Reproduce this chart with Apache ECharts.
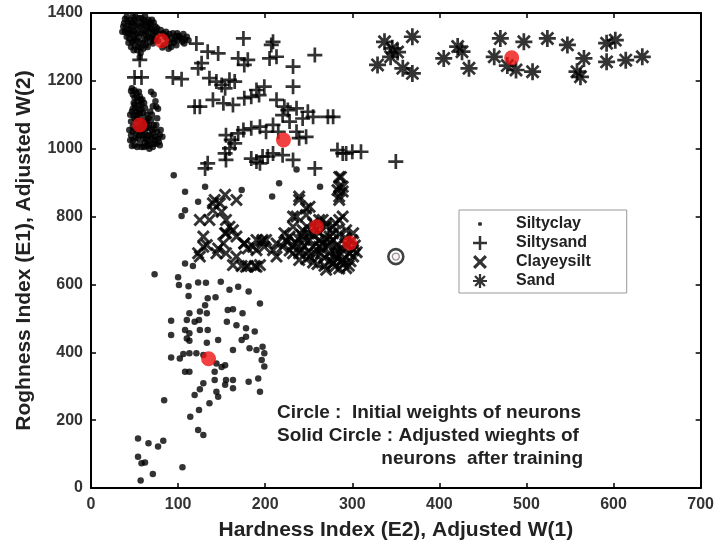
<!DOCTYPE html>
<html><head><meta charset="utf-8">
<script src="https://cdn.jsdelivr.net/npm/echarts@6/dist/echarts.min.js"></script>
<style>html,body{margin:0;padding:0;background:#fff}#c{width:717px;height:547px}</style>
</head><body><div id="c"></div>
<script>
// ---------- data ----------
const siltyclay = [
 // dense cluster top-left
 [38,1370],[40,1355],[42,1340],[44,1325],[45,1380],[46,1362],[47,1348],[48,1333],[49,1318],[50,1305],[51,1390],[52,1372],[53,1357],[54,1342],[55,1328],[56,1312],[57,1298],[58,1385],[59,1366],[60,1350],[61,1336],[62,1321],[63,1306],[64,1375],[65,1360],[66,1345],[67,1330],[68,1315],[69,1368],[70,1352],[71,1338],[72,1323],[73,1345],[75,1330],[77,1318],[79,1338],[41,1330],[43,1312],[39,1345],[46,1300],[53,1290],[57,1282],[56,1270],[55,1385],[62,1392],[48,1390],[66,1380],[74,1360],
 [37,1360],[39,1382],[42,1375],[44,1365],[43,1350],[47,1372],[50,1378],[51,1363],[49,1348],[52,1338],[50,1325],[53,1318],[47,1315],[45,1340],[58,1340],[61,1378],[63,1362],[67,1370],[70,1380],[72,1372],[74,1345],[76,1355],[71,1310],[65,1300],[60,1295],[54,1300],[49,1290],[58,1372],[63,1345],[68,1355],[57,1358],[60,1312],[64,1326],[69,1328],[73,1318],[41,1390],[36,1345],
 [85,1330],[88,1320],[90,1338],[93,1325],[95,1312],[97,1332],[100,1320],[102,1328],[105,1315],[108,1322],[110,1330],[84,1305],[91,1310],[99,1340],[86,1345],
 [80,1350],[83,1340],[87,1332],[94,1340],[96,1322],[101,1333],[104,1325],[107,1310],[92,1300],[98,1305],[89,1295],[82,1298],[106,1338],[112,1320],
 // second cluster
 [46,1170],[48,1160],[50,1150],[52,1165],[54,1140],[56,1155],[58,1130],[49,1135],[51,1120],[47,1110],[53,1100],[55,1115],[57,1095],[60,1105],[62,1120],[50,1090],[46,1080],[48,1065],[52,1075],[54,1060],[56,1050],[58,1080],[60,1065],[62,1045],[64,1075],[66,1060],[68,1040],[70,1055],[72,1070],[74,1035],[76,1050],[78,1020],[46,1040],[48,1025],[50,1010],[52,1045],[54,1030],[56,1015],[58,1005],[60,1030],[62,1018],[64,1008],[66,1025],[68,1012],[70,1030],[72,1015],[66,1090],[70,1100],[75,1124],[69,1168],[44,1055],[45,1100],[59,1145],[63,1085],[79,1040],
 [47,1178],[50,1172],[55,1168],[53,1150],[57,1145],[50,1130],[55,1128],[48,1118],[52,1108],[56,1105],[49,1098],[58,1115],[61,1135],[72,1160],[74,1140],[77,1118],[71,1125],[48,1050],[51,1058],[53,1088],[57,1068],[59,1052],[61,1078],[63,1060],[65,1040],[67,1070],[69,1085],[71,1045],[73,1058],[75,1070],[77,1030],[80,1055],[82,1035],[79,1010],[75,1015],[71,1005],[67,1000],[63,1030],[59,1040],[55,1040],[51,1030],[47,1008],[45,1025],[53,1005],[61,1005],[65,1015],[73,1025],[76,1090],[68,1110],[64,1100],
 // scattered middle
 [95,922],[108,873],[123,844],[108,819],[104,802],[131,888],[173,878],[216,898],[208,859],[236,939],[263,888],[108,662],[117,654],
 // lower cloud
 [73,630],[100,621],[101,598],[112,595],[123,606],[132,605],[149,608],[159,584],[169,593],[181,579],[194,544],[112,566],[134,559],[143,562],[131,539],[113,515],[125,520],[133,515],[157,525],[163,527],[174,515],[92,493],[110,495],[119,490],[124,495],[156,490],[167,480],[178,471],[188,461],[108,466],[113,456],[125,466],[134,466],[110,441],[92,451],[113,434],[133,428],[146,436],[163,407],[173,436],[178,446],[182,412],[190,407],[197,416],[199,397],[196,377],[199,358],[192,323],[194,284],[181,313],[163,318],[163,294],[92,385],[102,382],[106,395],[113,397],[121,397],[129,392],[108,343],[113,343],[144,367],[150,357],[154,362],[142,343],[155,318],[154,304],[129,309],[142,318],[125,291],[119,274],[144,284],[146,269],[136,250],[124,230],[114,210],[84,259],[123,171],[129,156],[54,146],[66,132],[77,122],[83,139],[54,92],[58,73],[62,75],[71,41],[57,22],[105,61]
];
const siltysand = [
 [56,1262],[50,1210],[58,1210],[94,1210],[104,1205],[121,1310],[134,1286],[123,1237],[127,1252],[146,1281],[136,1208],[144,1198],[150,1188],[159,1203],[165,1198],[154,1178],[169,1266],[175,1325],[176,1247],[180,1262],[190,1173],[193,1158],[199,1183],[209,1315],[207,1306],[205,1266],[213,1271],[232,1242],[232,1183],[257,1276],
 [119,1124],[125,1124],[140,1144],[152,1134],[163,1129],[176,1149],[184,1153],[213,1144],[222,1124],[226,1114],[220,1099],[236,1119],[249,1109],[255,1094],[272,1094],[243,1089],[228,1080],[236,1050],[239,1031],[247,1035],[278,1094],
 [155,1040],[161,1026],[165,1016],[169,1045],[175,1055],[184,1060],[194,1065],[201,1050],[209,1070],[215,1050],[159,1001],[154,986],[155,967],[134,957],[131,942],[184,971],[190,962],[194,957],[197,977],[203,977],[209,986],[220,981],[232,967],[257,942],[283,996],[289,986],[300,991],[293,986],[310,991],[350,962]
];
const clayeysilt = [
 [142,849],[148,839],[154,864],[167,849],[140,819],[150,814],[125,790],[136,790],[155,790],[159,770],[154,751],[129,741],[133,716],[123,692],[146,706],[152,721],[155,692],[167,741],[176,721],[186,711],[196,726],[199,711],[163,657],[173,654],[180,654],[188,654],[194,657],
 [140,839],[129,711],[125,682],[144,692],[155,751],[167,682],[180,706],[190,731],[201,731],[213,721],[224,731],[232,800],[239,849],[247,824],[251,731],[239,692],[262,711],[278,751],[285,917],[285,888],[285,849],[289,874],[285,790],[278,662],[289,672],[297,692],
 [239,859],[251,829],[236,800],[232,770],[243,760],[228,741],[236,721],[232,692],[239,672],[251,682],[255,711],[266,721],[274,741],[281,780],[289,800],[293,760],[301,751],[301,701],[301,682],[289,672],[278,662],[270,643],[285,647],[264,692],[274,692],[281,701],[285,859],[287,917],[289,888],[283,878],[247,805],[259,760],[262,731],[266,790],[278,731],[245,731],[241,701],[222,751],[220,711],
 [163,760],[176,721],[197,731],[209,701],[213,682],[190,701],[178,652],[190,652],[270,770],[292,720],[260,660],[296,655],
 [255,745],[262,752],[268,738],[275,725],[282,715],[288,705],[295,712],[300,730],[292,738],[285,748],[278,770],[270,780],[262,790],[255,780],[248,770],[250,750],[242,745],[238,735],[245,712],[250,698],[258,690],[268,678],[275,670],[282,680],[290,660],[298,668],[305,695],[303,715],[265,705],[272,715],[280,690],[287,690],[293,648],[280,652],[268,655],[255,665],[247,675],[232,715],[228,700],[225,725]
];
const sand = [
 [337,1315],[369,1330],[346,1296],[329,1247],[344,1271],[358,1237],[369,1222],[405,1266],[421,1301],[426,1286],[434,1237],[470,1325],[463,1271],[497,1315],[488,1232],[507,1227],[524,1325],[547,1306],[566,1266],[558,1227],[562,1212],[592,1311],[602,1320],[592,1256],[614,1261],[633,1271],[352,1285],[478,1245]
];
const adjusted = [[81,1318],[56,1070],[221,1026],[259,770],[297,722],[483,1268],[135,381]];
const initial = [[350,682]];

// ---------- symbols ----------
const plusPath = 'path://M8.2,0 L11.8,0 L11.8,8.2 L20,8.2 L20,11.8 L11.8,11.8 L11.8,20 L8.2,20 L8.2,11.8 L0,11.8 L0,8.2 L8.2,8.2 Z';
const crossPath = 'path://M0,3.2 L3.2,0 L10,6.8 L16.8,0 L20,3.2 L13.2,10 L20,16.8 L16.8,20 L10,13.2 L3.2,20 L0,16.8 L6.8,10 Z';
function starPath(){
  const R = 10, w = 1.6, r = w / Math.sin(Math.PI/8);
  const pts = [];
  for (let k = 0; k < 8; k++) {
    const t = k*Math.PI/4, c = Math.cos(t), s = Math.sin(t);
    pts.push([R*c + w*s, R*s - w*c]);
    pts.push([R*c - w*s, R*s + w*c]);
    const m = t + Math.PI/8;
    pts.push([r*Math.cos(m), r*Math.sin(m)]);
  }
  return 'path://' + pts.map((p,i)=>(i?'L':'M')+(p[0]+10).toFixed(2)+','+(p[1]+10).toFixed(2)).join(' ') + ' Z';
}
const starSym = starPath();
const dotLegend = 'path://M0,0 L0.01,0 Z M20,20 L19.99,20 Z M7,10 A3,3 0 1 1 13,10 A3,3 0 1 1 7,10 Z';

const FONT = 'Liberation Sans, Arial, sans-serif';
const chart = echarts.init(document.getElementById('c'));
const axisCommon = {
  axisLine:{show:true, onZero:false, lineStyle:{color:'#000', width:2}},
  axisTick:{show:true, inside:true, length:5, lineStyle:{color:'#000', width:1.5}},
  splitLine:{show:false}
};
const labelStyle = {fontFamily:FONT, fontWeight:'bold', fontSize:16, color:'#333', formatter:(v)=>String(v)};
chart.setOption({
  backgroundColor:'#fff',
  animation:false,
  grid:{left:91, right:15, top:13, bottom:59, containLabel:false},
  xAxis:[
    Object.assign({type:'value', min:0, max:700, interval:100, position:'bottom',
      name:'Hardness Index (E2), Adjusted W(1)', nameLocation:'middle', nameGap:32,
      nameTextStyle:{fontFamily:FONT, fontWeight:'bold', fontSize:21, color:'#222'},
      axisLabel:Object.assign({margin:9}, labelStyle)}, axisCommon),
    Object.assign({type:'value', min:0, max:700, interval:100, position:'top', axisLabel:{show:false}}, axisCommon)
  ],
  yAxis:[
    Object.assign({type:'value', min:0, max:1400, interval:200, position:'left',
      name:'Roghness Index (E1), Adjusted W(2)', nameLocation:'middle', nameGap:56,
      nameTextStyle:{fontFamily:FONT, fontWeight:'bold', fontSize:21, color:'#222'},
      axisLabel:Object.assign({margin:8}, labelStyle)}, axisCommon),
    Object.assign({type:'value', min:0, max:1400, interval:200, position:'right', axisLabel:{show:false}}, axisCommon)
  ],
  legend:{
    orient:'vertical', left:459, top:210, itemGap:3, itemWidth:20, itemHeight:14,
    padding:[6,36,4,14], borderColor:'#999', borderWidth:1, backgroundColor:'#fff',
    textStyle:{fontFamily:FONT, fontWeight:'bold', fontSize:16, color:'#222', padding:[0,0,0,21]},
    data:[
      {name:'Siltyclay', icon:dotLegend},
      {name:'Siltysand', icon:plusPath},
      {name:'Clayeysilt', icon:crossPath},
      {name:'Sand', icon:starSym}
    ]
  },
  graphic:[
    {type:'text', left:277, top:403, style:{text:'Circle :  Initial weights of neurons', font:'bold 19px '+FONT, fill:'#222'}},
    {type:'text', left:277, top:426, style:{text:'Solid Circle : Adjusted wieghts of', font:'bold 19px '+FONT, fill:'#222'}},
    {type:'text', right:134, top:449, style:{text:'neurons  after training', font:'bold 19px '+FONT, fill:'#222'}}
  ],
  series:[
    {name:'Siltyclay', type:'scatter', data:siltyclay, symbol:'circle', symbolSize:6.5, itemStyle:{color:'#000'}},
    {name:'Siltysand', type:'scatter', data:siltysand, symbol:plusPath, symbolSize:15, itemStyle:{color:'#000'}},
    {name:'Clayeysilt', type:'scatter', data:clayeysilt, symbol:crossPath, symbolSize:13, itemStyle:{color:'#000'}},
    {name:'Sand', type:'scatter', data:sand, symbol:starSym, symbolSize:17, itemStyle:{color:'#000'}},
    {name:'Adjusted', type:'scatter', data:adjusted, symbol:'circle', symbolSize:15, itemStyle:{color:'#ee1111'}, z:5},
    {name:'Initial', type:'scatter', data:initial, symbol:'circle', symbolSize:15, itemStyle:{color:'#fff', borderColor:'#111', borderWidth:2.6}, z:5},
    {name:'InitialInner', type:'scatter', data:initial, symbol:'circle', symbolSize:7, itemStyle:{color:'#fbeef0', borderColor:'#777', borderWidth:1.3}, z:6}
  ]
});
</script></body></html>
